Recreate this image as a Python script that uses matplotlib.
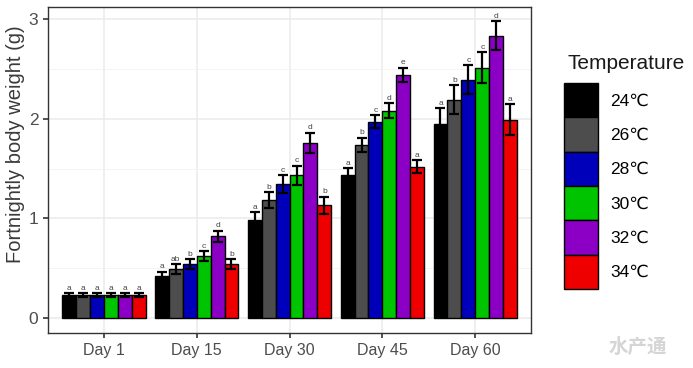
import numpy as np
import matplotlib
matplotlib.use("Agg")
import matplotlib.pyplot as plt
from matplotlib.patches import Patch

plt.rcParams["font.family"] = ["Liberation Sans", "DejaVu Sans", "Noto Sans CJK SC"]

days = ["Day 1", "Day 15", "Day 30", "Day 45", "Day 60"]
temps = ["24℃", "26℃", "28℃", "30℃", "32℃", "34℃"]
colors = ["#000000", "#4d4d4d", "#0000bb", "#00c400", "#8b00c4", "#ee0000"]

# mean weight per temperature, across days
means = [
    [0.23, 0.42, 0.98, 1.44, 1.95],   # 24
    [0.23, 0.49, 1.18, 1.74, 2.19],   # 26
    [0.23, 0.54, 1.34, 1.97, 2.39],   # 28
    [0.23, 0.62, 1.43, 2.08, 2.51],   # 30
    [0.23, 0.82, 1.76, 2.44, 2.83],   # 32
    [0.23, 0.54, 1.13, 1.52, 1.99],   # 34
]
errs = [
    [0.02, 0.045, 0.08, 0.065, 0.155],
    [0.02, 0.05, 0.08, 0.07, 0.145],
    [0.02, 0.05, 0.09, 0.065, 0.145],
    [0.02, 0.05, 0.10, 0.075, 0.155],
    [0.02, 0.055, 0.10, 0.07, 0.145],
    [0.02, 0.05, 0.085, 0.065, 0.155],
]
letters = [
    ["a", "a", "a", "a", "a"],
    ["a", "ab", "b", "b", "b"],
    ["a", "b", "c", "c", "c"],
    ["a", "c", "c", "d", "c"],
    ["a", "d", "d", "e", "d"],
    ["a", "b", "b", "a", "a"],
]

fig = plt.figure(figsize=(6.93, 3.68), dpi=100)
ax = fig.add_axes([0.0693, 0.095, 0.697, 0.886])

x = np.arange(1, len(days) + 1)
w = 0.9 / len(temps)
for i in range(len(temps)):
    xpos = x - 0.45 + w * (i + 0.5)
    ax.bar(xpos, means[i], width=w, color=colors[i], edgecolor="black",
           linewidth=1.0, zorder=3)
    ax.errorbar(xpos, means[i], yerr=errs[i], fmt="none", ecolor="black",
                elinewidth=1.6, capsize=3.8, capthick=1.6, zorder=4)
    for j in range(len(days)):
        ax.text(xpos[j], means[i][j] + errs[i][j] + 0.015, letters[i][j],
                ha="center", va="bottom", fontsize=6, color="#444444", zorder=5)

ax.set_xlim(0.4, 5.6)
ax.set_ylim(-0.15, 3.12)
ax.set_xticks(x)
ax.set_xticklabels(days)
ax.set_yticks([0, 1, 2, 3])
ax.set_yticks([0.5, 1.5, 2.5], minor=True)
ax.grid(True, which="major", color="#ebebeb", linewidth=1.1, zorder=0)
ax.grid(True, which="minor", axis="y", color="#f2f2f2", linewidth=0.6, zorder=0)
ax.tick_params(axis="both", which="major", labelsize=11.5, colors="#333333",
               labelcolor="#4d4d4d", length=3.5, width=1.2)
ax.tick_params(axis="y", which="major", labelsize=12.5)
ax.tick_params(axis="y", which="minor", length=0)
for s in ax.spines.values():
    s.set_color("#333333")
    s.set_linewidth(1.0)
ax.set_ylabel("Fortnightly body weight (g)", fontsize=14.5, fontweight="medium",
              color="#3a3a3a")
ax.yaxis.set_label_coords(-0.0475, 0.58)

# legend: title drawn separately so there is a gap above the keys
fig.text(0.8196, 0.8125, "Temperature", fontsize=15, color="#1a1a1a",
         ha="left", va="baseline")
handles = [Patch(facecolor=c, edgecolor="black", linewidth=1.0) for c in colors]
leg = fig.legend(handles, temps, loc="upper left", bbox_to_anchor=(0.814, 0.774),
                 frameon=False, fontsize=12.5, handlelength=1.96, handleheight=2.66,
                 labelspacing=0.0, handletextpad=0.7, borderaxespad=0, borderpad=0)

fig.text(0.92, 0.055, "水产通", fontsize=14, fontweight="bold", color="#d5d5d5",
         family=["Noto Sans CJK SC"], ha="center", va="center")

fig.savefig("out.png", dpi=100)
